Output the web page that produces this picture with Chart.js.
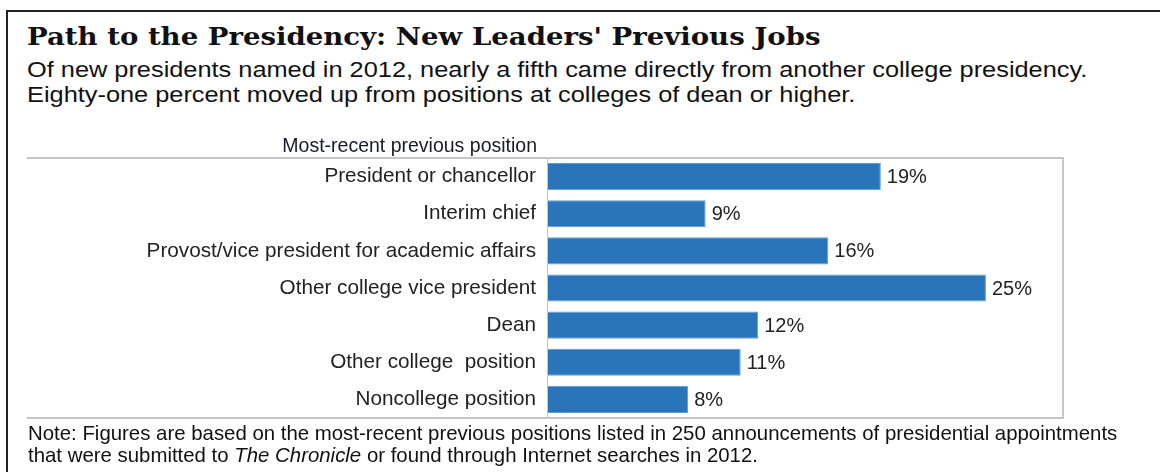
<!DOCTYPE html>
<html>
<head>
  <meta charset="UTF-8">
  <title>Path to the Presidency</title>
  <script src="https://cdn.jsdelivr.net/npm/chart.js"></script>
  <style>
    body {
      margin: 0;
      background: #fff;
      width: 1160px;
      height: 472px;
      overflow: hidden;
      position: relative;
      font-family: "Liberation Sans", Arial, sans-serif;
      color: #111;
    }
    #frame {
      position: absolute;
      left: 6px;
      top: 10px;
      width: 1200px;
      height: 500px;
      border-top: 2px solid #222;
      border-left: 2px solid #222;
    }
    h1 {
      position: absolute;
      left: 27px;
      top: 25px;
      margin: 0;
      font-family: "DejaVu Serif", Georgia, serif;
      font-size: 24px;
      line-height: 24px;
      font-weight: bold;
      white-space: nowrap;
      transform: scaleX(1.148);
      transform-origin: left top;
    }
    #sub {
      position: absolute;
      left: 27px;
      top: 57px;
      font-size: 22px;
      line-height: 25.3px;
      white-space: nowrap;
      transform: scaleX(1.152);
      transform-origin: left top;
    }
    #note {
      position: absolute;
      left: 28px;
      top: 423px;
      font-size: 20.4px;
      line-height: 21.5px;
      white-space: nowrap;
    }
    canvas {
      position: absolute;
      left: 0;
      top: 120px;
    }
  </style>
</head>
<body>
  <div id="frame"></div>
  <h1>Path to the Presidency: New Leaders' Previous Jobs</h1>
  <div id="sub">Of new presidents named in 2012, nearly a fifth came directly from another college presidency.<br>Eighty-one percent moved up from positions at colleges of dean or higher.</div>
  <canvas id="chart" width="1160" height="310"></canvas>
  <div id="note">Note: Figures are based on the most-recent previous positions listed in 250 announcements of presidential appointments<br>that were submitted to <i>The Chronicle</i> or found through Internet searches in 2012.</div>

  <script>
    const positions = [
      'President or chancellor',
      'Interim chief',
      'Provost/vice president for academic affairs',
      'Other college vice president',
      'Dean',
      'Other college  position',
      'Noncollege position'
    ];
    const shares = [19, 9, 16, 25, 12, 11, 8];
    const headerText = 'Most-recent previous position';

    const boxPlugin = {
      id: 'box',
      beforeDatasetsDraw(chart) {
        const { ctx, chartArea: a } = chart;
        ctx.save();
        ctx.strokeStyle = '#c6c6c6';
        ctx.lineWidth = 2;
        ctx.beginPath();
        ctx.moveTo(27, a.top);
        ctx.lineTo(a.right, a.top);
        ctx.lineTo(a.right, a.bottom);
        ctx.lineTo(27, a.bottom);
        ctx.stroke();
        ctx.lineWidth = 1;
        ctx.beginPath();
        ctx.moveTo(a.left - 0.5, a.top);
        ctx.lineTo(a.left - 0.5, a.bottom);
        ctx.stroke();

        // header above the category labels
        ctx.fillStyle = '#1a1a2a';
        ctx.font = '19.5px "Liberation Sans", Arial, sans-serif';
        ctx.textAlign = 'right';
        ctx.textBaseline = 'alphabetic';
        ctx.fillText(headerText, a.left - 11, a.top - 6);
        ctx.restore();
      },
      afterDatasetsDraw(chart) {
        const { ctx } = chart;
        const meta = chart.getDatasetMeta(0);
        ctx.save();
        ctx.fillStyle = '#222';
        ctx.font = '20px "Liberation Sans", Arial, sans-serif';
        ctx.textAlign = 'left';
        ctx.textBaseline = 'middle';
        meta.data.forEach((bar, i) => {
          ctx.fillText(shares[i] + '%', bar.x + 6, bar.y + 1);
        });
        ctx.restore();
      }
    };

    new Chart(document.getElementById('chart'), {
      type: 'bar',
      data: {
        labels: positions,
        datasets: [{
          data: shares,
          backgroundColor: '#2a75b9',
          borderColor: '#5d9bd3',
          borderWidth: 1,
          borderSkipped: 'left',
          categoryPercentage: 1,
          barPercentage: 0.73
        }]
      },
      options: {
        indexAxis: 'y',
        responsive: false,
        animation: false,
        devicePixelRatio: 1,
        layout: { padding: { top: 38, bottom: 12, left: 0, right: 97 } },
        plugins: {
          legend: { display: false },
          tooltip: { enabled: false }
        },
        scales: {
          x: {
            display: false,
            min: 0,
            max: 29.4
          },
          y: {
            afterFit(scale) {
              scale.width = 548;
              scale.paddingTop = 0;
              scale.paddingBottom = 0;
            },
            grid: { display: false, drawTicks: false },
            border: { display: false },
            ticks: {
              padding: 12,
              color: '#222',
              font: { family: '"Liberation Sans", Arial, sans-serif', size: 20.7 }
            }
          }
        }
      },
      plugins: [boxPlugin]
    });
  </script>
</body>
</html>
